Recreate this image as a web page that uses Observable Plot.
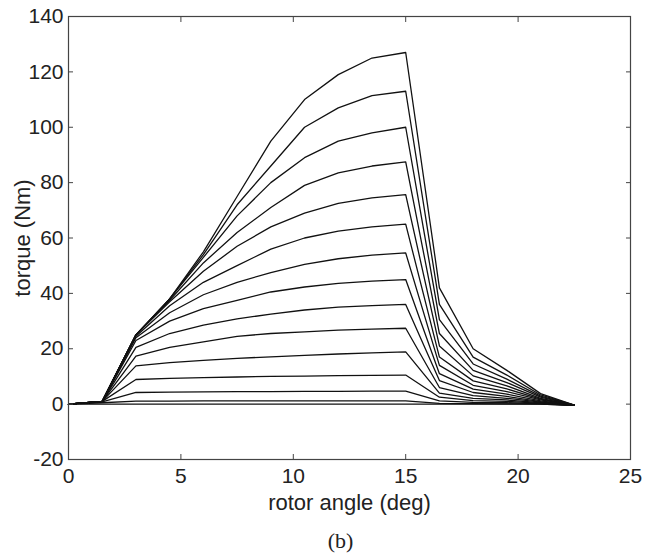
<!DOCTYPE html>
<html>
<head>
<meta charset="utf-8">
<script src="https://cdn.jsdelivr.net/npm/d3@7"></script>
<script src="https://cdn.jsdelivr.net/npm/@observablehq/plot@0.6"></script>
<style>
  body { margin: 0; background: #fff; }
  #chart svg { display: block; }
</style>
</head>
<body>
<div id="chart"></div>
<script>
// rotor angle breakpoints (deg)
const angle = [0, 1.5, 3, 4.5, 6, 7.5, 9, 10.5, 12, 13.5, 15, 16.5, 18, 19.5, 21, 22.5];

// torque (Nm) for each current level, lowest to highest
const torque00 = [0, 0, 0, 0, 0, 0, 0, 0, 0, 0, 0, 0, 0, 0, 0, -0.4];
const torque01 = [0, 0.5, 1.1, 1.1, 1.15, 1.15, 1.2, 1.2, 1.2, 1.2, 1.2, 0.3, 0.2, 0.1, 0.05, -0.4];
const torque02 = [0, 0.8, 4.2, 4.3, 4.4, 4.5, 4.5, 4.6, 4.6, 4.7, 4.7, 1.2, 0.6, 0.5, 0.2, -0.4];
const torque03 = [0, 1, 8.9, 9.3, 9.6, 9.8, 10, 10.1, 10.3, 10.4, 10.5, 2.5, 1.3, 1, 0.3, -0.4];
const torque04 = [0, 1, 13.8, 15, 15.8, 16.5, 17.1, 17.6, 18.1, 18.5, 18.9, 4, 2.1, 1.5, 0.5, -0.4];
const torque05 = [0, 1, 17.3, 20.5, 22.5, 24.5, 25.5, 26.1, 26.7, 27.1, 27.4, 6, 3.1, 2.1, 0.7, -0.4];
const torque06 = [0, 1, 20.5, 25.5, 28.5, 30.8, 32.5, 34, 35, 35.6, 36, 8.5, 4.2, 2.8, 0.9, -0.4];
const torque07 = [0, 1, 23, 30, 34.5, 37.5, 40.5, 42.3, 43.6, 44.4, 45, 11, 5.4, 3.6, 1.2, -0.4];
const torque08 = [0, 1, 24, 33, 39.5, 44, 47.5, 50.5, 52.5, 53.8, 54.6, 14, 6.8, 4.5, 1.5, -0.4];
const torque09 = [0, 1, 24.5, 35.5, 44, 50, 56, 60, 62.5, 64, 65, 17, 8.4, 5.5, 1.8, -0.4];
const torque10 = [0, 1, 25, 37, 48, 57, 64, 69, 72.5, 74.5, 75.7, 21, 10.2, 6.6, 2.1, -0.4];
const torque11 = [0, 1, 25, 37.5, 51, 62, 71, 79, 83.5, 86, 87.5, 25.5, 12.2, 7.8, 2.5, -0.4];
const torque12 = [0, 1, 25, 38, 53, 68, 80, 89, 95, 98, 100, 30.5, 14.5, 9, 2.9, -0.4];
const torque13 = [0, 1, 25, 38, 54, 72, 86, 100, 107, 111.4, 113, 36, 17, 10.5, 3.3, -0.4];
const torque14 = [0, 1, 25, 38, 55, 75, 95, 110, 119, 125, 127, 42, 20, 12.2, 3.8, -0.4];

// axis ticks
const xTicks = [0, 5, 10, 15, 20, 25];
const yTicks = [-20, 0, 20, 40, 60, 80, 100, 120, 140];

const series = [torque00, torque01, torque02, torque03, torque04, torque05, torque06, torque07,
                torque08, torque09, torque10, torque11, torque12, torque13, torque14];
const rows = series.flatMap((vals, k) => vals.map((v, j) => ({curve: k, angle: angle[j], torque: v})));

const font = "'Liberation Sans', Arial, Helvetica, sans-serif";
const blank = () => "";
const plain = d => String(d);

const chart = Plot.plot({
  width: 649,
  height: 559,
  marginLeft: 68,
  marginRight: 19,
  marginTop: 16,
  marginBottom: 100,
  x: {domain: [0, 25]},
  y: {domain: [-20, 140]},
  style: {fontFamily: font, fontSize: "21px", color: "#222", background: "#fff"},
  marks: [
    Plot.line(rows, {x: "angle", y: "torque", z: "curve", stroke: "#111", strokeWidth: 1.3, strokeLinejoin: "round"}),
    Plot.frame({stroke: "#444", strokeWidth: 1.2}),
    Plot.axisX(xTicks, {anchor: "bottom", tickSize: -5, tickFormat: blank, label: null, stroke: "#444"}),
    Plot.axisX(xTicks, {anchor: "top", tickSize: -5, tickFormat: blank, label: null, stroke: "#444"}),
    Plot.axisY(yTicks, {anchor: "left", tickSize: -5, tickFormat: blank, label: null, stroke: "#444"}),
    Plot.axisY(yTicks, {anchor: "right", tickSize: -5, tickFormat: blank, label: null, stroke: "#444"}),
    Plot.axisX(xTicks, {anchor: "bottom", tickSize: 0, tickPadding: 9, label: null, tickFormat: plain, fontSize: 21, fill: "#222"}),
    Plot.axisY(yTicks, {anchor: "left", tickSize: 0, tickPadding: 5, label: null, tickFormat: plain, fontSize: 21, fill: "#222"}),
    Plot.text(["rotor angle (deg)"], {frameAnchor: "bottom", textAnchor: "middle", lineAnchor: "middle",
                                      dy: 43, fontSize: 22, fill: "#222"}),
    Plot.text(["torque (Nm)"], {frameAnchor: "left", textAnchor: "middle", lineAnchor: "middle",
                                dx: -46, rotate: -90, fontSize: 22, fill: "#222"}),
    Plot.text(["(b)"], {frameAnchor: "bottom", textAnchor: "middle", lineAnchor: "middle",
                        dx: -9, dy: 81, fontSize: 22, fill: "#222",
                        fontFamily: "'Liberation Serif', 'Times New Roman', serif"})
  ]
});
document.getElementById("chart").append(chart);
</script>
</body>
</html>
